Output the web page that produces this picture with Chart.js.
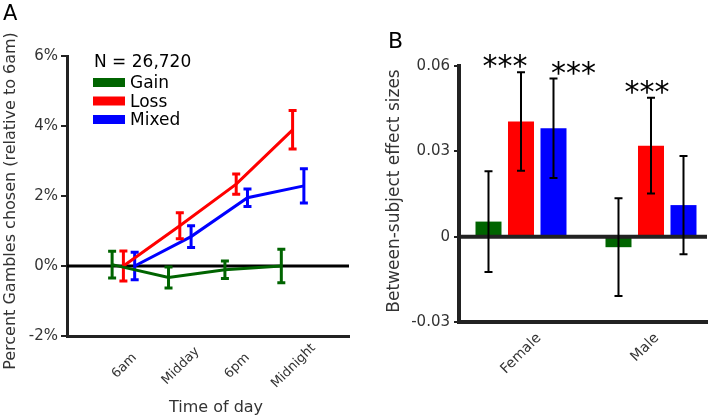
<!DOCTYPE html>
<html><head><meta charset="utf-8">
<script src="https://cdn.jsdelivr.net/npm/chart.js@4"></script>
<style>
html,body{margin:0;padding:0;background:#fff;width:708px;height:416px;overflow:hidden;}
#wa{position:absolute;left:0;top:0;width:360px;height:416px;}
#wb{position:absolute;left:360px;top:0;width:348px;height:416px;}
canvas{display:block;}
</style></head><body>
<div id="wa"><canvas id="ca" width="360" height="416"></canvas></div>
<div id="wb"><canvas id="cb" width="348" height="416"></canvas></div>
<script>
// ---------- Panel A data ----------
const timeLabels = ['6am', 'Midday', '6pm', 'Midnight'];
const seriesNames = ['Gain', 'Loss', 'Mixed'];
const gainMean  = [0.04, -0.33, -0.11, 0.00];
const gainErr   = [0.38, 0.30, 0.25, 0.48];
const lossMean  = [0.00, 1.15, 2.34, 3.89];
const lossErr   = [0.43, 0.37, 0.29, 0.55];
const mixedMean = [0.00, 0.84, 1.95, 2.29];
const mixedErr  = [0.39, 0.31, 0.25, 0.49];
const yTicksA = [-2, 0, 2, 4, 6];
const sampleLabel = 'N = 26,720';
const xTitleA = 'Time of day';
const yTitleA = 'Percent Gambles chosen (relative to 6am)';

// ---------- Panel B data ----------
const sexLabels = ['Female', 'Male'];
const gainEffect     = [0.0053, -0.0037];
const gainEffectErr  = [0.0177, 0.0172];
const lossEffect     = [0.0405, 0.0320];
const lossEffectErr  = [0.0173, 0.0168];
const mixedEffect    = [0.0381, 0.0111];
const mixedEffectErr = [0.0175, 0.0173];
const sigGain  = ['', ''];
const sigLoss  = ['***', '***'];
const sigMixed = ['***', ''];
const yTicksB = [-0.03, 0, 0.03, 0.06];
const yTitleB = 'Between-subject effect sizes';

// ---------- styling ----------
const FONT = 'DejaVu Sans';
const colors = ['#006400', '#ff0000', '#0000ff'];
const axisColor = '#222';
const textColor = '#333';

function rotLabel(ctx, text, cx, cy, size) {
  ctx.save();
  ctx.font = size + 'px "' + FONT + '"';
  ctx.fillStyle = textColor;
  ctx.translate(cx, cy);
  ctx.rotate(-Math.PI / 4);
  ctx.textAlign = 'center';
  ctx.textBaseline = 'middle';
  ctx.fillText(text, 0, 0);
  ctx.restore();
}
function vTitle(ctx, text, cx, cy, size) {
  ctx.save();
  ctx.font = size + 'px "' + FONT + '"';
  ctx.fillStyle = textColor;
  ctx.translate(cx, cy);
  ctx.rotate(-Math.PI / 2);
  ctx.textAlign = 'center';
  ctx.textBaseline = 'middle';
  ctx.fillText(text, 0, 0);
  ctx.restore();
}

// ================= Panel A =================
const dodgeA = [-0.2, 0, 0.2];
const meansA = [gainMean, lossMean, mixedMean];
const errsA = [gainErr, lossErr, mixedErr];

const pluginA = {
  id: 'panelA',
  beforeDatasetsDraw(chart) {
    const ctx = chart.ctx, ys = chart.scales.y, a = chart.chartArea;
    const y0 = ys.getPixelForValue(0);
    ctx.save();
    ctx.strokeStyle = '#000';
    ctx.lineWidth = 3;
    ctx.beginPath(); ctx.moveTo(a.left, y0); ctx.lineTo(a.right, y0); ctx.stroke();
    ctx.restore();
  },
  afterDatasetDraw(chart, args) {
    const ctx = chart.ctx, ds = chart.data.datasets[args.index];
    const xs = chart.scales.x, ys = chart.scales.y;
    ctx.save();
    ctx.strokeStyle = ds.borderColor;
    ctx.lineWidth = 3;
    ds.data.forEach((p, j) => {
      const x = xs.getPixelForValue(p.x);
      const y1 = ys.getPixelForValue(p.y - ds.err[j]);
      const y2 = ys.getPixelForValue(p.y + ds.err[j]);
      ctx.beginPath();
      ctx.moveTo(x, y1); ctx.lineTo(x, y2);
      ctx.moveTo(x - 4, y1); ctx.lineTo(x + 4, y1);
      ctx.moveTo(x - 4, y2); ctx.lineTo(x + 4, y2);
      ctx.stroke();
    });
    ctx.restore();
  },
  afterDraw(chart) {
    const ctx = chart.ctx, xs = chart.scales.x;
    ctx.save();
    ctx.fillStyle = '#000';
    ctx.font = '21px "' + FONT + '"';
    ctx.textAlign = 'left'; ctx.textBaseline = 'alphabetic';
    ctx.fillText('A', 3, 20);
    ctx.font = '17px "' + FONT + '"';
    ctx.fillText(sampleLabel, 94, 67);
    const baselines = [88, 106.5, 125];
    chart.data.datasets.forEach((ds, i) => {
      ctx.fillStyle = ds.borderColor;
      ctx.fillRect(93, baselines[i] - 10, 32, 9);
      ctx.fillStyle = '#000';
      ctx.fillText(ds.label, 130, baselines[i]);
    });
    ctx.fillStyle = textColor;
    ctx.font = '16px "' + FONT + '"';
    ctx.textAlign = 'center';
    ctx.fillText(xTitleA, 216, 412);
    ctx.restore();
    vTitle(ctx, yTitleA, 11, 201, 16);
    timeLabels.forEach((t, i) => rotLabel(ctx, t, xs.getPixelForValue(i) + 1, 366, 13));
  }
};

new Chart(document.getElementById('ca'), {
  type: 'line',
  data: {
    datasets: seriesNames.map((n, i) => ({
      label: n,
      data: meansA[i].map((v, j) => ({ x: j + dodgeA[i], y: v })),
      err: errsA[i],
      borderColor: colors[i],
      backgroundColor: colors[i],
      borderWidth: 3,
      pointRadius: 0,
      tension: 0,
      fill: false
    }))
  },
  options: {
    responsive: false,
    animation: false,
    devicePixelRatio: 1,
    layout: { padding: { top: 56, right: 11, bottom: 0, left: 0 } },
    plugins: { legend: { display: false }, tooltip: { enabled: false } },
    scales: {
      x: {
        type: 'linear', min: -1, max: 4, offset: false,
        afterBuildTicks: s => { s.ticks = timeLabels.map((_, i) => ({ value: i })); },
        afterFit: s => { s.height = 80; },
        ticks: { display: false },
        grid: { display: false },
        border: { display: true, width: 3, color: axisColor }
      },
      y: {
        min: -2, max: 6,
        afterBuildTicks: s => { s.ticks = yTicksA.map(v => ({ value: v })); },
        afterFit: s => { s.width = 67; },
        ticks: { callback: v => v + '%', color: textColor, font: { family: FONT, size: 15 }, padding: 3 },
        grid: { drawOnChartArea: false, drawTicks: true, tickLength: 6, color: axisColor, lineWidth: 2 },
        border: { display: true, width: 3, color: axisColor }
      }
    }
  },
  plugins: [pluginA]
});

// ================= Panel B =================
const meansB = [gainEffect, lossEffect, mixedEffect];
const errsB = [gainEffectErr, lossEffectErr, mixedEffectErr];
const sigsB = [sigGain, sigLoss, sigMixed];
const starDx = [[0, 0], [-16, -4], [20, 0]];
const labelDxB = [0, -6];

const pluginB = {
  id: 'panelB',
  afterDatasetsDraw(chart) {
    const ctx = chart.ctx, ys = chart.scales.y, a = chart.chartArea;
    const y0 = ys.getPixelForValue(0);
    ctx.save();
    ctx.strokeStyle = axisColor;
    ctx.lineWidth = 4;
    ctx.beginPath(); ctx.moveTo(a.left, y0); ctx.lineTo(a.right, y0); ctx.stroke();
    chart.data.datasets.forEach((ds, i) => {
      const meta = chart.getDatasetMeta(i);
      ds.data.forEach((p, j) => {
        const x = meta.data[j].x;
        const yTop = ys.getPixelForValue(p.y + ds.err[j]);
        const yBot = ys.getPixelForValue(p.y - ds.err[j]);
        ctx.strokeStyle = '#000';
        ctx.lineWidth = 2;
        ctx.beginPath();
        ctx.moveTo(x, yTop); ctx.lineTo(x, yBot);
        ctx.moveTo(x - 4, yTop); ctx.lineTo(x + 4, yTop);
        ctx.moveTo(x - 4, yBot); ctx.lineTo(x + 4, yBot);
        ctx.stroke();
        const s = ds.sig[j];
        if (s) {
          ctx.font = '30px "' + FONT + '"';
          ctx.fillStyle = '#000';
          ctx.textAlign = 'center';
          ctx.textBaseline = 'alphabetic';
          const m = ctx.measureText(s);
          const cy = yTop - 11;
          const base = cy + (m.actualBoundingBoxAscent - m.actualBoundingBoxDescent) / 2;
          ctx.fillText(s, x + starDx[i][j], base);
        }
      });
    });
    ctx.restore();
  },
  afterDraw(chart) {
    const ctx = chart.ctx, xs = chart.scales.x;
    ctx.save();
    ctx.fillStyle = '#000';
    ctx.font = '22px "' + FONT + '"';
    ctx.textAlign = 'left'; ctx.textBaseline = 'alphabetic';
    ctx.fillText('B', 28, 48);
    ctx.restore();
    vTitle(ctx, yTitleB, 35, 191, 17);
    sexLabels.forEach((t, i) => {
      ctx.save();
      ctx.font = '14px "' + FONT + '"';
      const w = ctx.measureText(t).width;
      ctx.restore();
      const bh = (w + 14) * Math.SQRT1_2;
      rotLabel(ctx, t, xs.getPixelForValue(i + 1) + labelDxB[i], 331 + bh / 2, 14);
    });
  }
};

new Chart(document.getElementById('cb'), {
  type: 'bar',
  data: {
    datasets: seriesNames.map((n, i) => ({
      label: n,
      data: meansB[i].map((v, j) => ({ x: j + 1, y: v })),
      err: errsB[i],
      sig: sigsB[i],
      backgroundColor: colors[i],
      borderWidth: 0,
      categoryPercentage: 0.75,
      barPercentage: 0.8
    }))
  },
  options: {
    responsive: false,
    animation: false,
    devicePixelRatio: 1,
    layout: { padding: { top: 66, right: 1, bottom: 0, left: 0 } },
    plugins: { legend: { display: false }, tooltip: { enabled: false } },
    scales: {
      x: {
        type: 'linear', min: 0.5231, max: 2.4308, offset: false,
        afterBuildTicks: s => { s.ticks = sexLabels.map((_, i) => ({ value: i + 1 })); },
        afterFit: s => { s.height = 94; },
        ticks: { display: false },
        grid: { display: false, offset: false },
        border: { display: true, width: 4, color: axisColor }
      },
      y: {
        min: -0.03, max: 0.06,
        afterBuildTicks: s => { s.ticks = yTicksB.map(v => ({ value: v })); },
        afterFit: s => { s.width = 99; },
        ticks: { callback: v => (v === 0 ? '0' : v.toFixed(2)), color: textColor, font: { family: FONT, size: 15 }, padding: 4 },
        grid: { drawOnChartArea: false, drawTicks: true, tickLength: 5, color: axisColor, lineWidth: 2 },
        border: { display: true, width: 4, color: axisColor }
      }
    }
  },
  plugins: [pluginB]
});
</script>
</body></html>
